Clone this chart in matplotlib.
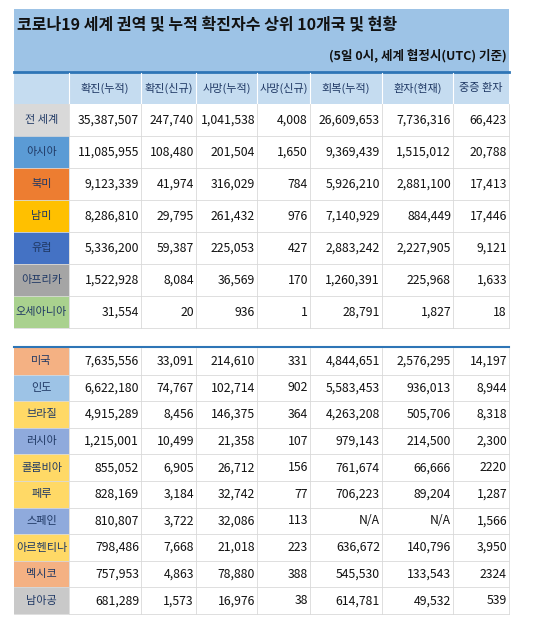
import matplotlib.pyplot as plt
from matplotlib.patches import Rectangle

plt.rcParams['font.family'] = ['Noto Sans CJK KR', 'DejaVu Sans']

title = '코로나19 세계 권역 및 누적 확진자수 상위 10개국 및 현황'
subtitle = '(5일 0시, 세계 협정시(UTC) 기준)'
columns = ['확진(누적)', '확진(신규)', '사망(누적)', '사망(신규)', '회복(누적)', '환자(현재)', '중증 환자']

regions = ['전 세계', '아시아', '북미', '남미', '유럽', '아프리카', '오세아니아']
region_colors = ['#d9d9d9', '#5b9bd5', '#ed7d31', '#ffc000', '#4472c4', '#a5a5a5', '#a9d18e']
region_values = [
    ['35,387,507', '247,740', '1,041,538', '4,008', '26,609,653', '7,736,316', '66,423'],
    ['11,085,955', '108,480', '201,504', '1,650', '9,369,439', '1,515,012', '20,788'],
    ['9,123,339', '41,974', '316,029', '784', '5,926,210', '2,881,100', '17,413'],
    ['8,286,810', '29,795', '261,432', '976', '7,140,929', '884,449', '17,446'],
    ['5,336,200', '59,387', '225,053', '427', '2,883,242', '2,227,905', '9,121'],
    ['1,522,928', '8,084', '36,569', '170', '1,260,391', '225,968', '1,633'],
    ['31,554', '20', '936', '1', '28,791', '1,827', '18'],
]

countries = ['미국', '인도', '브라질', '러시아', '콜롬비아', '페루', '스페인', '아르헨티나', '멕시코', '남아공']
country_colors = ['#f4b183', '#9dc3e6', '#ffd966', '#8faadc', '#ffd966', '#ffd966', '#8faadc', '#ffd966', '#f4b183', '#c9c9c9']
country_values = [
    ['7,635,556', '33,091', '214,610', '331', '4,844,651', '2,576,295', '14,197'],
    ['6,622,180', '74,767', '102,714', '902', '5,583,453', '936,013', '8,944'],
    ['4,915,289', '8,456', '146,375', '364', '4,263,208', '505,706', '8,318'],
    ['1,215,001', '10,499', '21,358', '107', '979,143', '214,500', '2,300'],
    ['855,052', '6,905', '26,712', '156', '761,674', '66,666', '2220'],
    ['828,169', '3,184', '32,742', '77', '706,223', '89,204', '1,287'],
    ['810,807', '3,722', '32,086', '113', 'N/A', 'N/A', '1,566'],
    ['798,486', '7,668', '21,018', '223', '636,672', '140,796', '3,950'],
    ['757,953', '4,863', '78,880', '388', '545,530', '133,543', '2324'],
    ['681,289', '1,573', '16,976', '38', '614,781', '49,532', '539'],
]

# column edges in pixels
xs = [14, 69, 141, 196, 257, 310, 382, 453, 509]
navy = '#1f3864'
grid = '#d9d9d9'

fig = plt.figure(figsize=(5.48, 6.24), dpi=100)
ax = fig.add_axes([0, 0, 1, 1])
ax.set_xlim(0, 548)
ax.set_ylim(624, 0)
ax.axis('off')

# title band
ax.add_patch(Rectangle((xs[0], 9), xs[-1] - xs[0], 63, color='#9dc3e6', lw=0))
ax.text(17, 24, title, fontsize=11.5, fontweight='bold', va='center', color='#111111')
ax.text(507, 55, subtitle, fontsize=9, fontweight='bold', ha='right', va='center', color='#111111')
ax.plot([xs[0], xs[-1]], [72, 72], color='#2e75b6', lw=2)

# header
ax.add_patch(Rectangle((xs[0], 73), xs[-1] - xs[0], 31, color='#c5dcf0', lw=0))
for j, c in enumerate(columns):
    ax.text((xs[j + 1] + xs[j + 2]) / 2, 88, c, fontsize=8, ha='center', va='center', color=navy)
    ax.plot([xs[j + 1], xs[j + 1]], [73, 104], color='white', lw=0.8)


def draw_block(top, h, names, colors, values):
    for i, (n, col, row) in enumerate(zip(names, colors, values)):
        y0 = top + i * h
        ax.add_patch(Rectangle((xs[0], y0), xs[1] - xs[0], h, color=col, lw=0))
        ax.text((xs[0] + xs[1]) / 2, y0 + h / 2, n, fontsize=8, ha='center', va='center', color=navy)
        for j, v in enumerate(row):
            ax.text(xs[j + 2] - 2, y0 + h / 2, v, fontsize=8.8, ha='right', va='center', color='#111111')
        ax.plot([xs[0], xs[-1]], [y0 + h, y0 + h], color=grid, lw=0.6)
    for x in xs[1:]:
        ax.plot([x, x], [top, top + h * len(names)], color=grid, lw=0.6)


draw_block(104, 32, regions, region_colors, region_values)
ax.plot([xs[0], xs[-1]], [347, 347], color='#2e75b6', lw=1.5)
draw_block(348, 26.6, countries, country_colors, country_values)

fig.savefig('out.png', dpi=100)
